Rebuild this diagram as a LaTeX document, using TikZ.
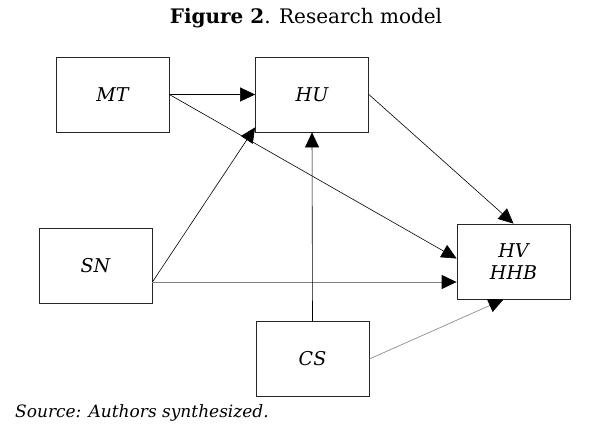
\documentclass[tikz,border=0pt]{standalone}
\usepackage{fontspec}
\setmainfont{DejaVu Serif}
\usetikzlibrary{arrows.meta,calc}
\begin{document}
\begin{tikzpicture}[x=1pt,y=-1pt,
  box/.style={draw=black!85,line width=0.8pt,minimum width=113pt,minimum height=75pt,inner sep=0pt,align=center,font=\fontsize{19}{22}\selectfont\itshape},
  conn/.style={line width=0.6pt,-{Triangle[length=15pt,width=14pt,color=black]}},
  lightconn/.style={conn,draw=gray}]
\useasboundingbox (0,0) rectangle (597,424);
\node[font=\fontsize{20}{24}\selectfont] (title) at (306,18) {\textbf{Figure 2}. Research model};
\node[box] (MT) at (112.5,94.5) {MT};
\node[box] (HU) at (312,94.5) {HU};
\node[box] (SN) at (95.5,266) {SN};
\node[box] (HV) at (513.5,261.5) {HV\\HHB};
\node[box] (CS) at (312.5,359) {CS};
\node[anchor=west,font=\fontsize{17}{21}\selectfont\itshape,inner sep=0pt] (src) at (15,413) {Source: Authors synthesized.};
\coordinate (snout) at ($(SN.east)+(0,16)$);
\coordinate (hvin) at ($(HV.west)+(0,20.5)$);
\coordinate (hvleft) at ($(HV.west)+(0,-3)$);
\coordinate (hucorner) at ($(HU.south west)+(0,-5)$);
\coordinate (hvbot) at ($(HV.south)+(-10,0)$);
\draw[conn] (MT.east) -- (HU.west);
\draw[conn] (MT.east) -- (hvleft);
\draw[conn] (snout) -- (hucorner);
\draw[lightconn,line width=1pt] (snout) -- (hvin);
\draw[conn] (CS.north) -- (HU.south);
\draw[conn] (HU.east) -- (HV.north);
\draw[lightconn] (CS.east) -- (hvbot);
\end{tikzpicture}
\end{document}
